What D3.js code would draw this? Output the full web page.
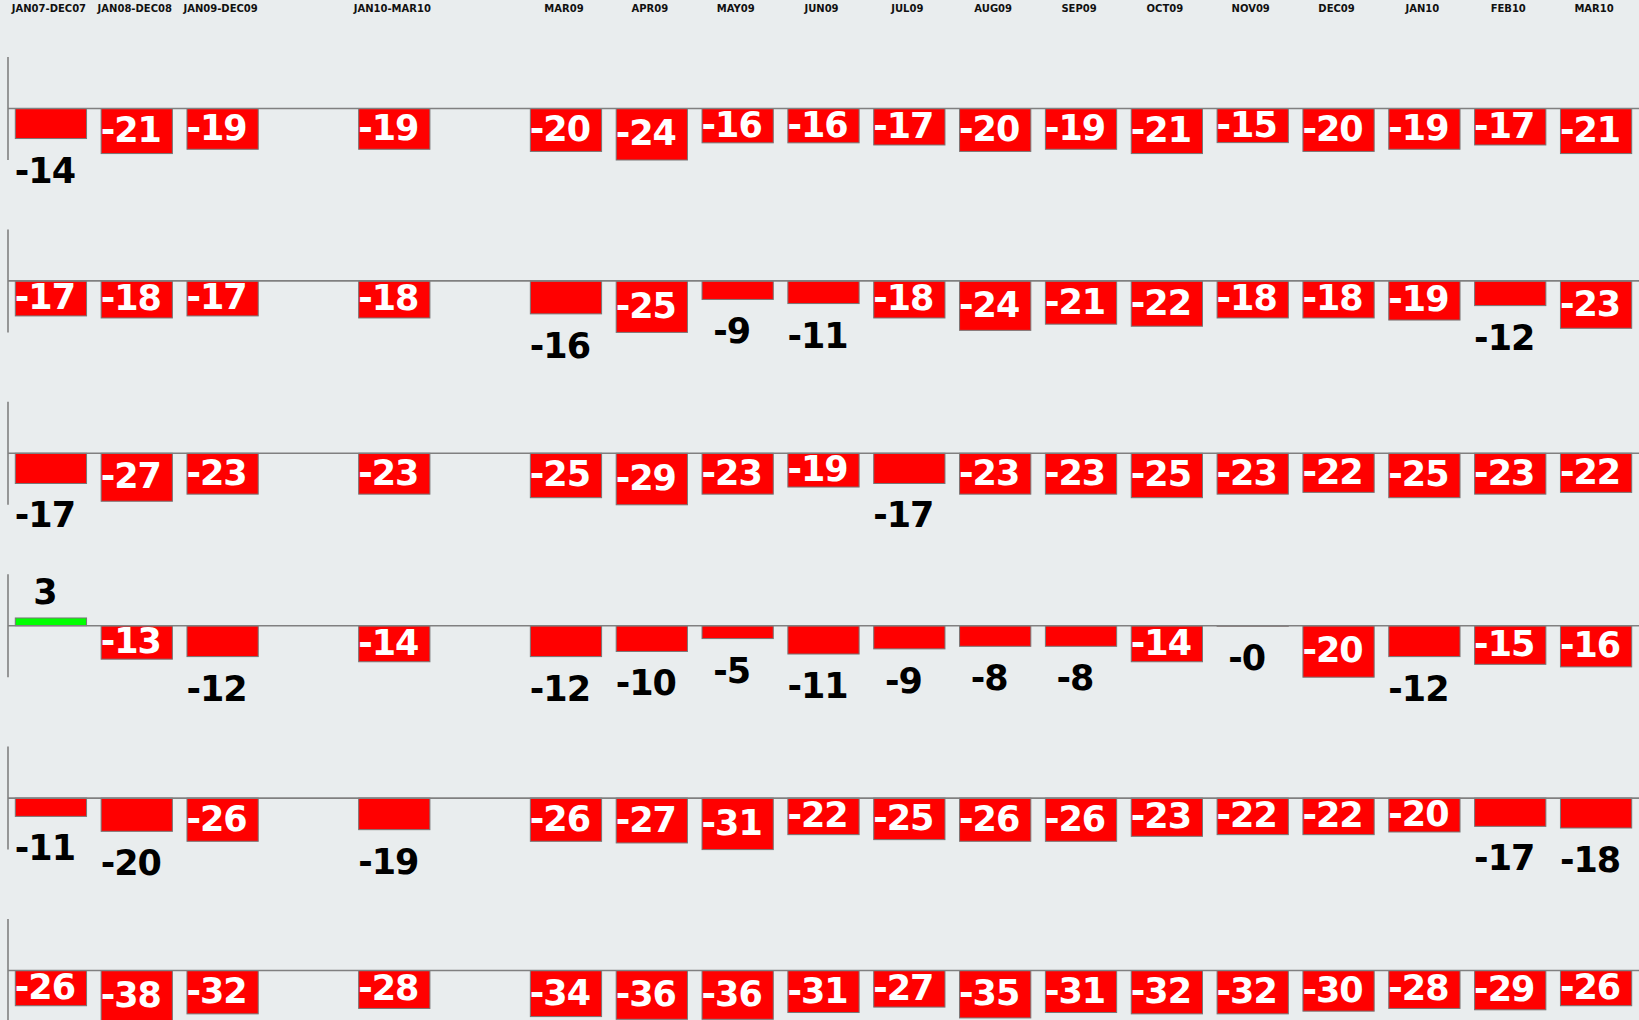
<!DOCTYPE html>
<html>
<head>
<meta charset="utf-8">
<script src="https://cdn.jsdelivr.net/npm/d3@7"></script>
<style>
  body { margin: 0; background: #e9edee; overflow: hidden; }
  svg { display: block; }
</style>
</head>
<body>
<svg width="1639" height="1020"></svg>
<script>
// column slots (empty strings are gaps)
var slots = ["JAN07-DEC07", "JAN08-DEC08", "JAN09-DEC09", "", "JAN10-MAR10", "",
  "MAR09", "APR09", "MAY09", "JUN09", "JUL09", "AUG09", "SEP09", "OCT09",
  "NOV09", "DEC09", "JAN10", "FEB10", "MAR10"];
var columns = slots.filter(function (d) { return d !== ""; });

// one array per row, same order as columns
var row1 = [-14, -21, -19, -19, -20, -24, -16, -16, -17, -20, -19, -21, -15.9, -20, -19, -17, -21];
var row2 = [-17, -18, -17, -18, -16, -25, -9, -11, -18, -24, -21, -22, -18, -18, -19, -12, -23];
var row3 = [-17, -27, -23, -23, -25, -29, -23, -19, -17, -23, -23, -25, -23, -22, -25, -23, -22];
var row4 = [3, -13, -12, -14, -12, -10, -5, -11, -9, -8, -8, -14, -0.2, -20, -12, -15, -16];
var row5 = [-11, -20, -26, -19, -26, -27, -31, -22, -25, -26, -26, -23, -22, -22, -20.4, -17, -18];
var row6 = [-26, -38, -32, -28, -34, -36, -36, -31, -27, -35, -31, -32, -32, -30, -28, -29, -26];
var rows = [row1, row2, row3, row4, row5, row6];

var svg = d3.select("svg"),
    width = +svg.attr("width"),
    left = 8,
    rowTop = 57,
    rowStep = 172.4,
    panelH = 103;

var x = d3.scaleBand()
    .domain(slots.map(function (d, i) { return i; }))
    .range([left, width])
    .paddingInner(0.17)
    .paddingOuter(0.085);

function fmt(v) {
    return (v < 0 ? "-" : "") + Math.floor(Math.abs(v));
}

// column headers
svg.selectAll(".head")
    .data(slots.map(function (d, i) { return { name: d, i: i }; }).filter(function (d) { return d.name; }))
    .enter().append("text")
    .attr("class", "head")
    .attr("x", function (d) { return x(d.i) + x.bandwidth() / 2 - 2; })
    .attr("y", 12)
    .attr("text-anchor", "middle")
    .style("font-family", "'DejaVu Sans', Verdana, sans-serif")
    .style("font-weight", "bold")
    .style("font-size", "10px")
    .style("fill", "#111")
    .text(function (d) { return d.name; });

rows.forEach(function (vals, r) {
    var top = rowTop + r * rowStep;
    var m = d3.max(vals, function (v) { return Math.abs(v); });
    var y = d3.scaleLinear().domain([m, -m]).range([top, top + panelH]);
    var y0 = y(0);

    var data = vals.map(function (v, i) {
        return { v: v, slot: slots.indexOf(columns[i]) };
    });

    var g = svg.append("g");

    // bars
    g.selectAll("rect")
        .data(data)
        .enter().append("rect")
        .attr("x", function (d) { return x(d.slot); })
        .attr("y", function (d) { return Math.min(y(d.v), y0); })
        .attr("width", x.bandwidth())
        .attr("height", function (d) { return Math.abs(y(d.v) - y0); })
        .attr("fill", function (d) { return d.v > 0 ? "#00ff00" : "#ff0000"; })
        .attr("stroke", "#777")
        .attr("stroke-width", 1);

    // zero line and axis
    g.append("line")
        .attr("x1", left).attr("x2", width)
        .attr("y1", y0).attr("y2", y0)
        .attr("stroke", "#808080").attr("stroke-width", 1.6);
    g.append("line")
        .attr("x1", left).attr("x2", left)
        .attr("y1", top).attr("y2", top + panelH)
        .attr("stroke", "#808080").attr("stroke-width", 1.6);

    // value labels: white inside tall bars, black outside short ones
    g.selectAll(".lab")
        .data(data)
        .enter().append("text")
        .attr("class", "lab")
        .attr("x", function (d) { return x(d.slot) + x.bandwidth() / 2 - 6; })
        .attr("y", function (d) {
            var h = Math.abs(y(d.v) - y0);
            if (d.v > 0) return y(d.v) - 14;
            if (h >= 33.4) return y0 + h / 2 + 11;
            return y(d.v) + 44;
        })
        .attr("text-anchor", "middle")
        .style("font-family", "'DejaVu Sans', Verdana, sans-serif")
        .style("font-weight", "bold")
        .style("font-size", "35px")
        .style("letter-spacing", "-1px")
        .style("fill", function (d) {
            var h = Math.abs(y(d.v) - y0);
            return (d.v < 0 && h >= 33.4) ? "#fff" : "#000";
        })
        .text(function (d) { return fmt(d.v); });
});
</script>
</body>
</html>
